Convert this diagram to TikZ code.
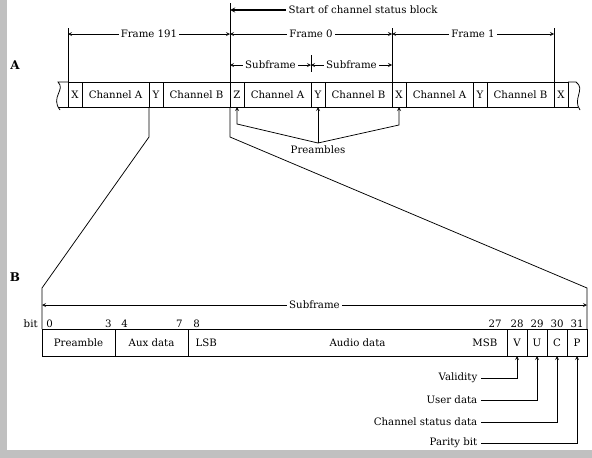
\documentclass[tikz,border=0pt]{standalone}
\usepackage{fontspec}
\setmainfont{DejaVu Serif}
\usetikzlibrary{positioning}
\definecolor{edgegray}{RGB}{192,192,192}

\begin{document}
\begin{tikzpicture}[>=stealth,x=1pt,y=-1pt,line width=0.75pt,
  font=\fontsize{10.2}{12}\selectfont,
  cell/.style={draw,minimum height=25pt,inner sep=0pt,outer sep=0pt},
  pre/.style={cell,minimum width=14pt},
  chan/.style={cell,minimum width=67pt},
  bcell/.style={draw,minimum height=27pt,inner sep=0pt,outer sep=0pt},
  lbl/.style={fill=white,inner sep=2pt},
  bitno/.style={inner sep=1pt},
  part/.style={font=\fontsize{12}{14}\selectfont\bfseries}]

  % Rand
  \fill[edgegray] (0,0) rectangle (7,458);
  \fill[edgegray] (0,450) rectangle (592,458);
  \useasboundingbox (0,0) rectangle (592,458);

  \node[part] (partA) at (15,65) {A};
  \node[part] (partB) at (15,277) {B};

  % Riga A
  \node[pre,anchor=west] (xa) at (68,94.5) {X};
  \node[chan,right=0pt of xa] (cha1) {Channel A};
  \node[pre,right=0pt of cha1] (ya) {Y};
  \node[chan,right=0pt of ya] (chb1) {Channel B};
  \node[pre,right=0pt of chb1] (z) {Z};
  \node[chan,right=0pt of z] (cha2) {Channel A};
  \node[pre,right=0pt of cha2] (yb) {Y};
  \node[chan,right=0pt of yb] (chb2) {Channel B};
  \node[pre,right=0pt of chb2] (xb) {X};
  \node[chan,right=0pt of xb] (cha3) {Channel A};
  \node[pre,right=0pt of cha3] (yc) {Y};
  \node[chan,right=0pt of yc] (chb3) {Channel B};
  \node[pre,right=0pt of chb3] (xc) {X};

  % Interruzioni
  \draw (xa.north west) -- (58,82) .. controls (66,90) and (50,97) .. (60,110);
  \draw (xa.south west) -- (58,107);
  \draw (xc.north east) -- (576,82) .. controls (586,89) and (572,99) .. (580,110);
  \draw (xc.south east) -- (578,107);

  % Quote dei frame
  \draw (xa.north west) -- (xa.north west |- 0,28);
  \draw (z.north west) -- (z.north west |- 0,3);
  \draw (xb.north west) -- (xb.north west |- 0,28);
  \draw (xc.north west) -- (xc.north west |- 0,28);
  \draw[<->] (xa.north west |- 0,34) -- node[lbl] {Frame 191} (z.north west |- 0,34);
  \draw[<->] (z.north west |- 0,34) -- node[lbl] {Frame 0} (xb.north west |- 0,34);
  \draw[<->] (xb.north west |- 0,34) -- node[lbl] {Frame 1} (xc.north west |- 0,34);
  \draw[<-,line width=1.3pt] (z.north west |- 0,10) -- ++(56,0)
    node[right,inner sep=2pt] {Start of channel status block};
  \draw (yb.north west |- 0,55) -- (yb.north west |- 0,72);
  \draw[<->] (z.north west |- 0,65) -- node[lbl] {Subframe} (yb.north west |- 0,65);
  \draw[<->] (yb.north west |- 0,65) -- node[lbl] {Subframe} (xb.north west |- 0,65);

  % Preamboli
  \coordinate (papex) at (yb.south |- 0,143);
  \node[anchor=north,inner sep=2pt] (plabel) at (papex) {Preambles};
  \draw[->] (papex) -- (yb.south);
  \draw[->] (papex) -- (z.south |- 0,124) -- (z.south);
  \draw[->] (papex) -- (xb.south |- 0,125) -- (xb.south);

  % Riga B
  \node[bcell,minimum width=73pt,anchor=west] (bpre) at (42,342.5) {Preamble};
  \node[bcell,minimum width=73pt,right=0pt of bpre] (baux) {Aux data};
  \node[bcell,minimum width=319pt,right=0pt of baux] (baudio) {};
  \node[bcell,minimum width=20pt,right=0pt of baudio] (bv) {V};
  \node[bcell,minimum width=20pt,right=0pt of bv] (bu) {U};
  \node[bcell,minimum width=20pt,right=0pt of bu] (bc) {C};
  \node[bcell,minimum width=20pt,right=0pt of bc] (bp) {P};
  \node (audio) at ([xshift=10pt]baudio.center) {Audio data};
  \node[anchor=west] (lsb) at ([xshift=4pt]baudio.west) {LSB};
  \node[anchor=east] (msb) at ([xshift=-6pt]baudio.east) {MSB};

  % Numeri di bit
  \node[bitno,anchor=south east] (bitlbl) at ([xshift=-3pt]bpre.north west) {bit};
  \node[bitno,anchor=south west] (b0) at ([xshift=3pt]bpre.north west) {0};
  \node[bitno,anchor=south east] (b3) at ([xshift=-2pt]bpre.north east) {3};
  \node[bitno,anchor=south west] (b4) at ([xshift=5pt]baux.north west) {4};
  \node[bitno,anchor=south east] (b7) at ([xshift=-4pt]baux.north east) {7};
  \node[bitno,anchor=south west] (b8) at ([xshift=4pt]baudio.north west) {8};
  \node[bitno,anchor=south east] (b27) at ([xshift=-4pt]baudio.north east) {27};
  \node[bitno,anchor=south] (b28) at (bv.north) {28};
  \node[bitno,anchor=south] (b29) at (bu.north) {29};
  \node[bitno,anchor=south] (b30) at (bc.north) {30};
  \node[bitno,anchor=south] (b31) at (bp.north) {31};

  % Espansione del subframe
  \draw (ya.south west) -- (ya.south west |- 0,137) -- (bpre.north west |- 0,288) -- (bpre.north west);
  \draw (z.south west) -- (z.south west |- 0,137) -- (bp.north east |- 0,288) -- (bp.north east);
  \draw[<->] (bpre.north west |- 0,305) -- node[lbl] {Subframe} (bp.north east |- 0,305);

  % Etichette dei bit
  \node[anchor=east] (lval) at (481,378) {Validity};
  \node[anchor=east] (luser) at (481,400) {User data};
  \node[anchor=east] (lstat) at (481,422) {Channel status data};
  \node[anchor=east] (lpar) at (481,443) {Parity bit};
  \draw[->] (lval.east) -- (lval.east -| bv.south) -- (bv.south);
  \draw[->] (luser.east) -- (luser.east -| bu.south) -- (bu.south);
  \draw[->] (lstat.east) -- (lstat.east -| bc.south) -- (bc.south);
  \draw[->] (lpar.east) -- (lpar.east -| bp.south) -- (bp.south);

\end{tikzpicture}
\end{document}
